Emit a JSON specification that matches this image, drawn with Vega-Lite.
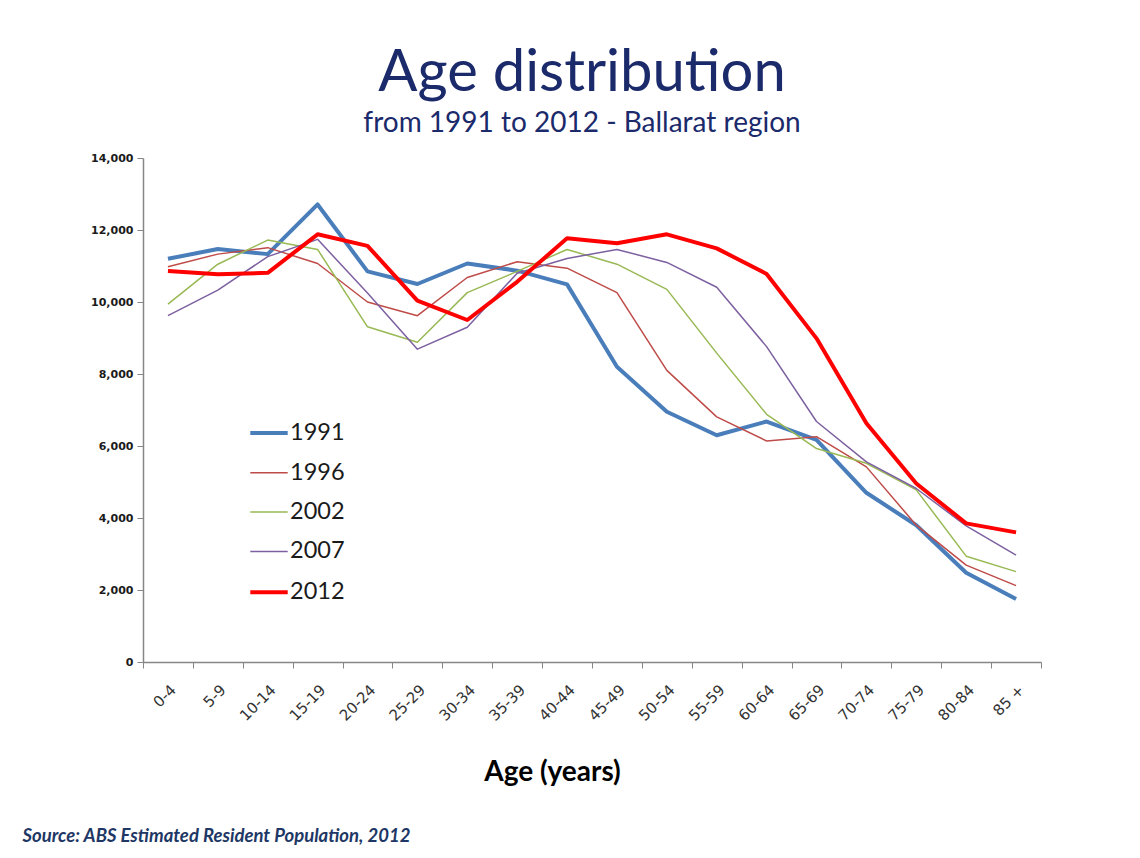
{
  "$schema": "https://vega.github.io/schema/vega-lite/v6.json",
  "background": "white",
  "padding": {"left": 22, "top": 45, "right": 10, "bottom": 10},
  "config": {"font": "Lato", "view": {"stroke": null}},
  "title": {
    "text": "Age distribution",
    "subtitle": "from 1991 to 2012 - Ballarat region",
    "anchor": "middle",
    "dx": 50,
    "font": "Lato",
    "fontSize": 58,
    "fontWeight": "normal",
    "color": "#1B2A6B",
    "subtitleFont": "Lato",
    "subtitleFontSize": 28,
    "subtitleColor": "#1B2A6B",
    "subtitlePadding": 7,
    "offset": 14
  },
  "vconcat": [
    {
      "width": 898,
      "height": 504,
      "title": {
        "text": "Source: ABS Estimated Resident Population, 2012",
        "orient": "bottom",
        "anchor": "start",
        "dx": -68,
        "fontSize": 18.5,
        "fontStyle": "italic",
        "fontWeight": "bold",
        "color": "#1E3765",
        "offset": 41
      },
      "data": {
        "values": [
          {"year": "1991", "age": "0-4", "population": 11200},
          {"year": "1991", "age": "5-9", "population": 11470},
          {"year": "1991", "age": "10-14", "population": 11330},
          {"year": "1991", "age": "15-19", "population": 12710},
          {"year": "1991", "age": "20-24", "population": 10850},
          {"year": "1991", "age": "25-29", "population": 10500},
          {"year": "1991", "age": "30-34", "population": 11070},
          {"year": "1991", "age": "35-39", "population": 10870},
          {"year": "1991", "age": "40-44", "population": 10490},
          {"year": "1991", "age": "45-49", "population": 8200},
          {"year": "1991", "age": "50-54", "population": 6950},
          {"year": "1991", "age": "55-59", "population": 6300},
          {"year": "1991", "age": "60-64", "population": 6680},
          {"year": "1991", "age": "65-69", "population": 6170},
          {"year": "1991", "age": "70-74", "population": 4700},
          {"year": "1991", "age": "75-79", "population": 3800},
          {"year": "1991", "age": "80-84", "population": 2480},
          {"year": "1991", "age": "85 +", "population": 1750},
          {"year": "1996", "age": "0-4", "population": 10980},
          {"year": "1996", "age": "5-9", "population": 11330},
          {"year": "1996", "age": "10-14", "population": 11510},
          {"year": "1996", "age": "15-19", "population": 11070},
          {"year": "1996", "age": "20-24", "population": 10000},
          {"year": "1996", "age": "25-29", "population": 9620},
          {"year": "1996", "age": "30-34", "population": 10680},
          {"year": "1996", "age": "35-39", "population": 11120},
          {"year": "1996", "age": "40-44", "population": 10940},
          {"year": "1996", "age": "45-49", "population": 10260},
          {"year": "1996", "age": "50-54", "population": 8100},
          {"year": "1996", "age": "55-59", "population": 6810},
          {"year": "1996", "age": "60-64", "population": 6140},
          {"year": "1996", "age": "65-69", "population": 6260},
          {"year": "1996", "age": "70-74", "population": 5420},
          {"year": "1996", "age": "75-79", "population": 3800},
          {"year": "1996", "age": "80-84", "population": 2690},
          {"year": "1996", "age": "85 +", "population": 2120},
          {"year": "2002", "age": "0-4", "population": 9940},
          {"year": "2002", "age": "5-9", "population": 11050},
          {"year": "2002", "age": "10-14", "population": 11720},
          {"year": "2002", "age": "15-19", "population": 11460},
          {"year": "2002", "age": "20-24", "population": 9310},
          {"year": "2002", "age": "25-29", "population": 8880},
          {"year": "2002", "age": "30-34", "population": 10260},
          {"year": "2002", "age": "35-39", "population": 10850},
          {"year": "2002", "age": "40-44", "population": 11460},
          {"year": "2002", "age": "45-49", "population": 11050},
          {"year": "2002", "age": "50-54", "population": 10350},
          {"year": "2002", "age": "55-59", "population": 8580},
          {"year": "2002", "age": "60-64", "population": 6880},
          {"year": "2002", "age": "65-69", "population": 5930},
          {"year": "2002", "age": "70-74", "population": 5520},
          {"year": "2002", "age": "75-79", "population": 4780},
          {"year": "2002", "age": "80-84", "population": 2940},
          {"year": "2002", "age": "85 +", "population": 2510},
          {"year": "2007", "age": "0-4", "population": 9620},
          {"year": "2007", "age": "5-9", "population": 10330},
          {"year": "2007", "age": "10-14", "population": 11260},
          {"year": "2007", "age": "15-19", "population": 11740},
          {"year": "2007", "age": "20-24", "population": 10250},
          {"year": "2007", "age": "25-29", "population": 8690},
          {"year": "2007", "age": "30-34", "population": 9300},
          {"year": "2007", "age": "35-39", "population": 10800},
          {"year": "2007", "age": "40-44", "population": 11210},
          {"year": "2007", "age": "45-49", "population": 11460},
          {"year": "2007", "age": "50-54", "population": 11100},
          {"year": "2007", "age": "55-59", "population": 10410},
          {"year": "2007", "age": "60-64", "population": 8760},
          {"year": "2007", "age": "65-69", "population": 6680},
          {"year": "2007", "age": "70-74", "population": 5560},
          {"year": "2007", "age": "75-79", "population": 4820},
          {"year": "2007", "age": "80-84", "population": 3780},
          {"year": "2007", "age": "85 +", "population": 2970},
          {"year": "2012", "age": "0-4", "population": 10860},
          {"year": "2012", "age": "5-9", "population": 10770},
          {"year": "2012", "age": "10-14", "population": 10810},
          {"year": "2012", "age": "15-19", "population": 11880},
          {"year": "2012", "age": "20-24", "population": 11560},
          {"year": "2012", "age": "25-29", "population": 10040},
          {"year": "2012", "age": "30-34", "population": 9500},
          {"year": "2012", "age": "35-39", "population": 10560},
          {"year": "2012", "age": "40-44", "population": 11770},
          {"year": "2012", "age": "45-49", "population": 11630},
          {"year": "2012", "age": "50-54", "population": 11880},
          {"year": "2012", "age": "55-59", "population": 11490},
          {"year": "2012", "age": "60-64", "population": 10780},
          {"year": "2012", "age": "65-69", "population": 8990},
          {"year": "2012", "age": "70-74", "population": 6630},
          {"year": "2012", "age": "75-79", "population": 4960},
          {"year": "2012", "age": "80-84", "population": 3850},
          {"year": "2012", "age": "85 +", "population": 3600}
        ]
      },
      "mark": {"type": "line", "strokeJoin": "round", "strokeCap": "butt"},
      "encoding": {
        "x": {
          "field": "age",
          "type": "ordinal",
          "sort": ["0-4","5-9","10-14","15-19","20-24","25-29","30-34","35-39","40-44","45-49","50-54","55-59","60-64","65-69","70-74","75-79","80-84","85 +"],
          "scale": {"type": "band", "paddingInner": 0, "paddingOuter": 0},
          "axis": {
            "title": "Age (years)",
            "titleFont": "Lato",
            "titleFontSize": 28,
            "titleFontWeight": "bold",
            "titleColor": "#000000",
            "titlePadding": 35,
            "titleX": 409,
            "titleAlign": "center",
            "labelAngle": -45,
            "labelFont": "DejaVu Sans",
            "labelFontSize": 15,
            "labelColor": "#333333",
            "labelPadding": 14,
            "tickBand": "extent",
            "tickSize": 6,
            "tickColor": "#868686",
            "domainColor": "#868686",
            "domainWidth": 1.5,
            "grid": false
          }
        },
        "y": {
          "field": "population",
          "type": "quantitative",
          "scale": {"domain": [0, 14000]},
          "axis": {
            "title": null,
            "values": [0, 2000, 4000, 6000, 8000, 10000, 12000, 14000],
            "format": ",.0f",
            "labelFont": "DejaVu Sans",
            "labelFontSize": 11,
            "labelFontWeight": "bold",
            "labelColor": "#1a1a1a",
            "labelPadding": 4,
            "tickSize": 6,
            "tickColor": "#868686",
            "domainColor": "#868686",
            "domainWidth": 1.5,
            "grid": false
          }
        },
        "color": {
          "field": "year",
          "type": "ordinal",
          "scale": {
            "domain": ["1991", "1996", "2002", "2007", "2012"],
            "range": ["#4A7EBB", "#BE4B48", "#98B954", "#7D60A0", "#FF0000"]
          },
          "legend": {
            "orient": "none",
            "legendX": 105,
            "legendY": 254,
            "title": null,
            "symbolType": "stroke",
            "symbolSize": 1400,
            "labelFont": "Lato",
            "labelFontSize": 23.5,
            "labelColor": "#1a1a1a",
            "labelOffset": 0,
            "rowPadding": 8.3
          }
        },
        "strokeWidth": {
          "field": "year",
          "type": "ordinal",
          "scale": {
            "type": "ordinal",
            "domain": ["1991", "1996", "2002", "2007", "2012"],
            "range": [4, 1.5, 1.5, 1.5, 4]
          }
        }
      }
    }
  ]
}
